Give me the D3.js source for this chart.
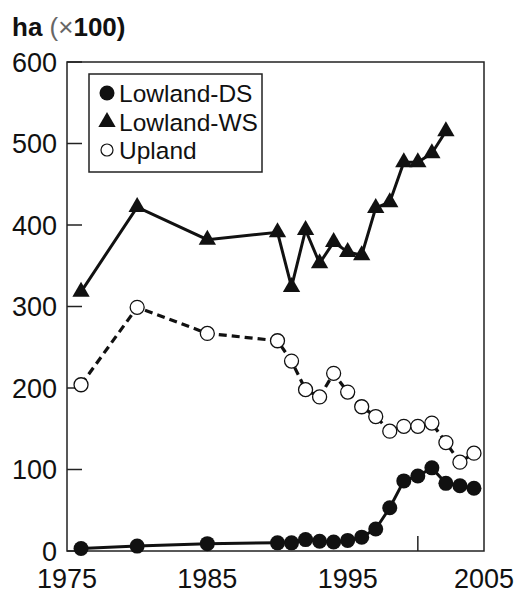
<!DOCTYPE html>
<html>
<head>
<meta charset="utf-8">
<script src="https://cdn.jsdelivr.net/npm/d3@7"></script>
<style>
  body { margin: 0; background: #fff; }
  svg { display: block; font-family: "Liberation Sans", Arial, sans-serif; }
</style>
</head>
<body>
<div id="chart"></div>
<script>
// values (ha x 100)
const years = [1976, 1980, 1985, 1990, 1991, 1992, 1993, 1994, 1995, 1996, 1997, 1998, 1999, 2000, 2001, 2002, 2003, 2004];
const lowlandDS = [3, 6, 9, 10, 10, 14, 12, 11, 13, 17, 27, 53, 86, 92, 102, 83, 80, 77];
const upland = [204, 299, 267, 258, 233, 198, 189, 218, 195, 177, 165, 147, 153, 153, 157, 133, 109, 120];
const yearsWS = [1976, 1980, 1985, 1990, 1991, 1992, 1993, 1994, 1995, 1996, 1997, 1998, 1999, 2000, 2001, 2002];
const lowlandWS = [318, 422, 382, 391, 324, 394, 353, 379, 367, 363, 421, 428, 477, 477, 488, 515];
const xTickLabels = [1975, 1985, 1995, 2005];
const yTicks = [0, 100, 200, 300, 400, 500, 600];
const legendLabels = ["Lowland-DS", "Lowland-WS", "Upland"];

(function () {
  const width = 518, height = 594;
  const pl = 67, pt = 62, pr = 484, pb = 551;

  const svg = d3.select('#chart').append('svg')
    .attr('width', width)
    .attr('height', height);

  const x = d3.scaleLinear().domain([1975, 2005]).range([pl, 488]);
  const y = d3.scaleLinear().domain([0, 600]).range([pb, pt]);

  // frame
  svg.append('rect')
    .attr('x', pl).attr('y', pt)
    .attr('width', pr - pl).attr('height', pb - pt)
    .attr('fill', 'none').attr('stroke', '#222').attr('stroke-width', 1.5);

  // y ticks (inward) + labels
  svg.append('g').selectAll('line')
    .data(yTicks)
    .join('line')
    .attr('x1', pl).attr('x2', pl + 15)
    .attr('y1', d => y(d)).attr('y2', d => y(d))
    .attr('stroke', '#222').attr('stroke-width', 1.5);

  svg.append('g').selectAll('text')
    .data(yTicks)
    .join('text')
    .attr('x', 57)
    .attr('y', d => y(d))
    .attr('dy', '0.36em')
    .attr('text-anchor', 'end')
    .attr('font-size', 27)
    .attr('fill', '#111')
    .text(d => d);

  // x: single inward tick at 2000
  svg.append('line')
    .attr('x1', x(2000)).attr('x2', x(2000))
    .attr('y1', pb).attr('y2', pb - 15)
    .attr('stroke', '#222').attr('stroke-width', 1.5);

  svg.append('g').selectAll('text')
    .data(xTickLabels)
    .join('text')
    .attr('x', d => Math.min(x(d), pr))
    .attr('y', 588)
    .attr('text-anchor', 'middle')
    .attr('font-size', 27)
    .attr('fill', '#111')
    .text(d => d);

  // y title
  const title = svg.append('text')
    .attr('x', 12).attr('y', 36)
    .attr('font-size', 26)
    .attr('fill', '#111');
  title.append('tspan').attr('font-weight', 'bold').text('ha ');
  title.append('tspan').attr('fill', '#666').text('(×');
  title.append('tspan').attr('font-weight', 'bold').text('100)');

  const line = d3.line().x(d => x(d[0])).y(d => y(d[1]));

  const ws = yearsWS.map((yr, i) => [yr, lowlandWS[i]]);
  const up = years.map((yr, i) => [yr, upland[i]]);
  const ds = years.map((yr, i) => [yr, lowlandDS[i]]);

  // lines
  svg.append('path').datum(up)
    .attr('d', line).attr('fill', 'none')
    .attr('stroke', '#111').attr('stroke-width', 3.2)
    .attr('stroke-dasharray', '8,5');
  svg.append('path').datum(ws)
    .attr('d', line).attr('fill', 'none')
    .attr('stroke', '#111').attr('stroke-width', 3);
  svg.append('path').datum(ds)
    .attr('d', line).attr('fill', 'none')
    .attr('stroke', '#111').attr('stroke-width', 3);

  const tri = d3.symbol().type(d3.symbolTriangle).size(130);

  // markers
  svg.append('g').selectAll('circle')
    .data(up)
    .join('circle')
    .attr('cx', d => x(d[0])).attr('cy', d => y(d[1]))
    .attr('r', 7)
    .attr('fill', '#fff').attr('stroke', '#111').attr('stroke-width', 1.3);

  svg.append('g').selectAll('path')
    .data(ws)
    .join('path')
    .attr('d', tri)
    .attr('transform', d => `translate(${x(d[0])},${y(d[1])})`)
    .attr('fill', '#111');

  svg.append('g').selectAll('circle')
    .data(ds)
    .join('circle')
    .attr('cx', d => x(d[0])).attr('cy', d => y(d[1]))
    .attr('r', 7.5)
    .attr('fill', '#111');

  // legend
  const lg = svg.append('g');
  lg.append('rect')
    .attr('x', 89).attr('y', 74)
    .attr('width', 173).attr('height', 98)
    .attr('fill', '#fff').attr('stroke', '#222').attr('stroke-width', 1.5);

  const rowY = [93, 122, 150];
  lg.append('circle').attr('cx', 107).attr('cy', rowY[0]).attr('r', 7.5).attr('fill', '#111');
  lg.append('path').attr('d', tri).attr('transform', `translate(107,${rowY[1]})`).attr('fill', '#111');
  lg.append('circle').attr('cx', 107).attr('cy', rowY[2]).attr('r', 6)
    .attr('fill', '#fff').attr('stroke', '#111').attr('stroke-width', 1.2);

  lg.selectAll('text')
    .data(legendLabels)
    .join('text')
    .attr('x', 119)
    .attr('y', (d, i) => rowY[i])
    .attr('dy', '0.36em')
    .attr('font-size', 24.5)
    .attr('fill', '#111')
    .text(d => d);
})();
</script>
</body>
</html>
